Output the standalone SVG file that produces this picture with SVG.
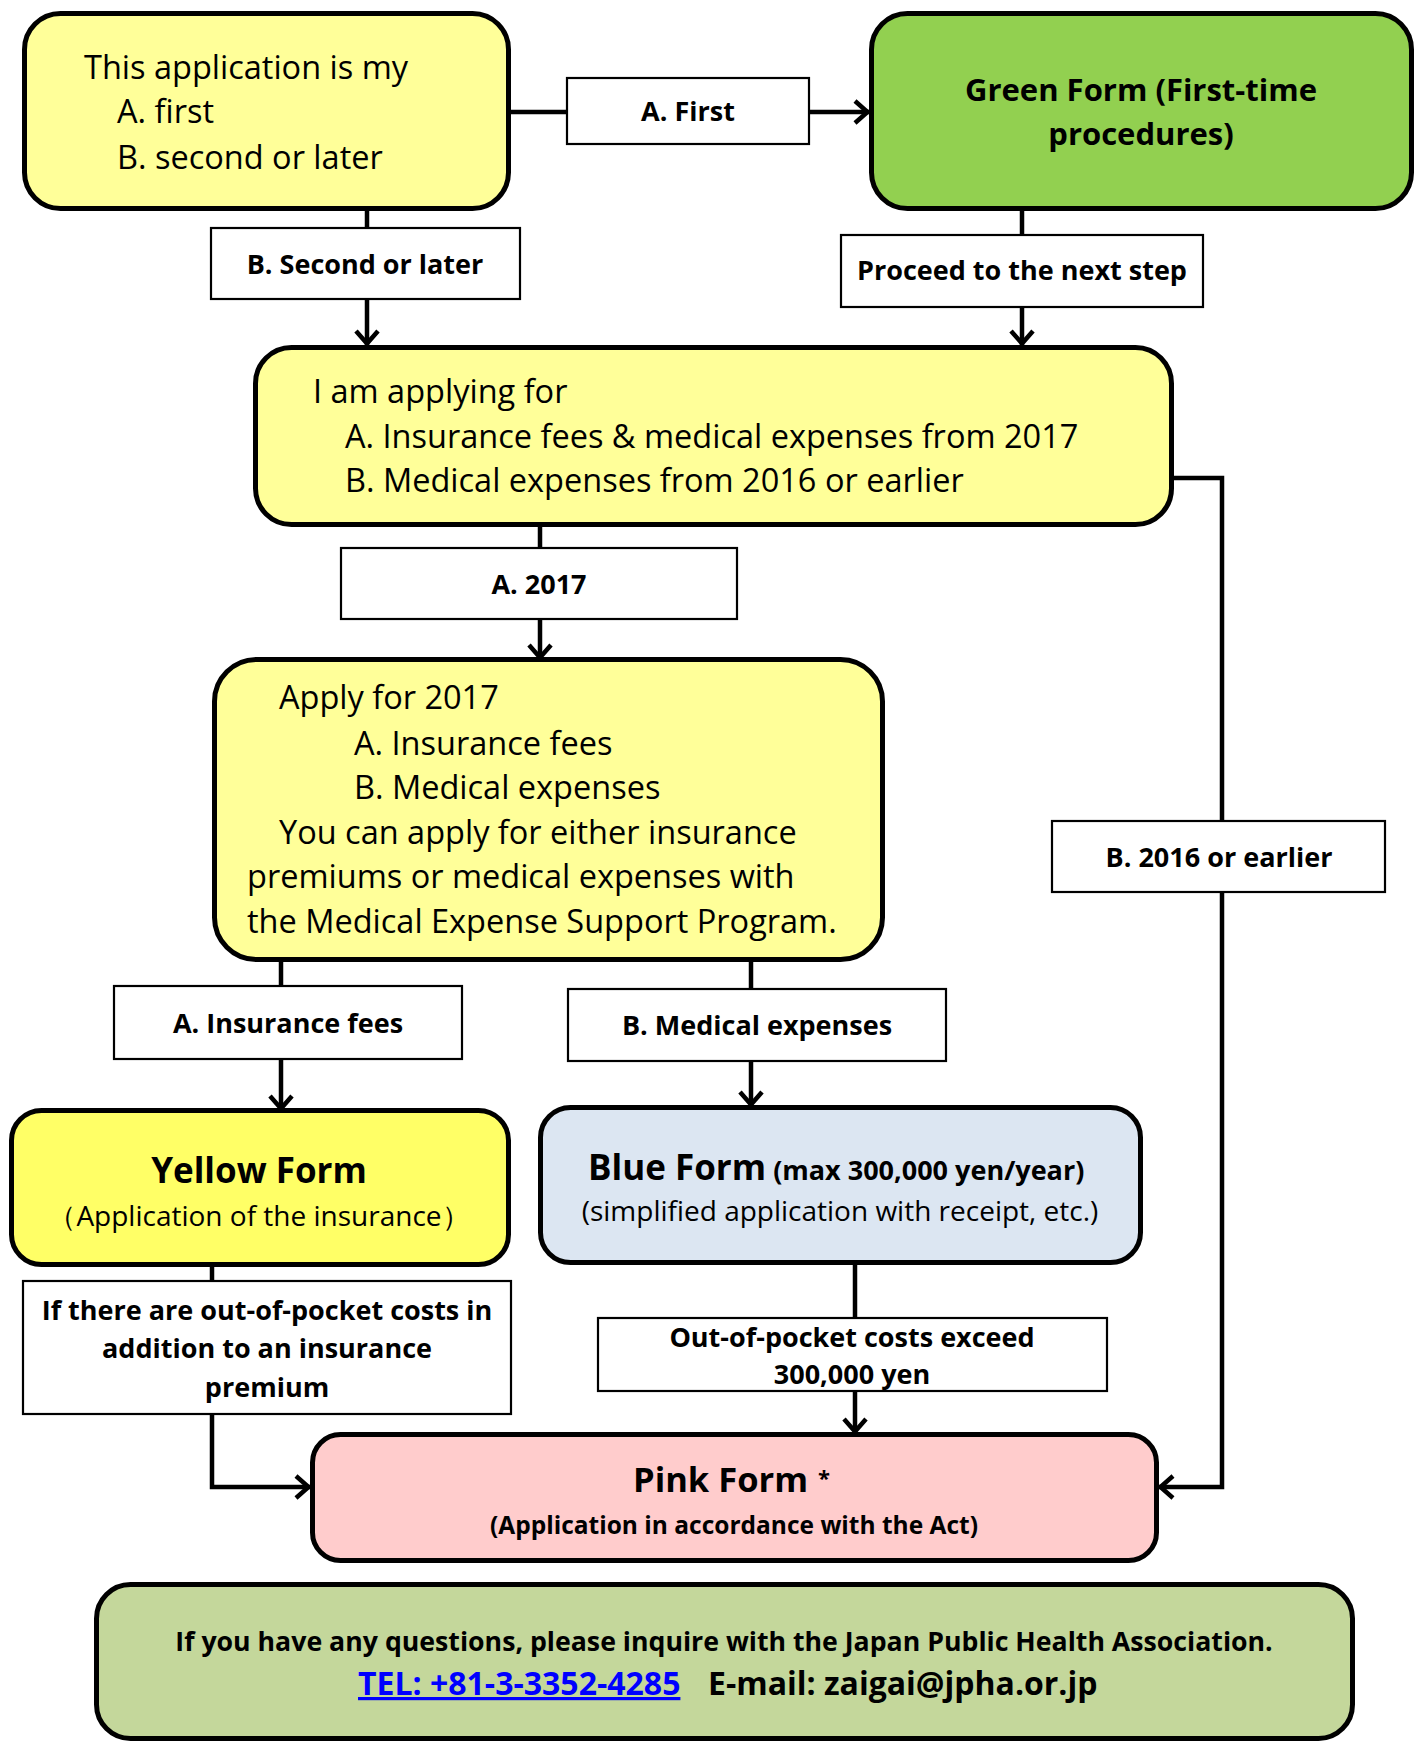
<svg xmlns="http://www.w3.org/2000/svg" width="1422" height="1742" viewBox="0 0 1422 1742">
<style>
.node{stroke:#000;stroke-width:5}
.lbl{fill:#fff;stroke:#000;stroke-width:2.2}
.t{font-family:"Open Sans","Liberation Sans",sans-serif;fill:#000}
.r{font-size:32.5px}
.b{font-weight:bold}
.lt{font-family:"Open Sans","Liberation Sans",sans-serif;font-weight:bold;font-size:27px;text-anchor:middle;fill:#000}
.c{text-anchor:middle}
.con{fill:none;stroke:#000;stroke-width:4.5;stroke-linejoin:miter}
</style>
<defs>
<marker id="arr" markerUnits="userSpaceOnUse" markerWidth="40" markerHeight="40" refX="0" refY="0" orient="auto" viewBox="-20 -20 40 40" overflow="visible">
<path d="M-14,-11 L-1.5,0 L-14,11" fill="none" stroke="#000" stroke-width="4.5"/>
</marker>
</defs>

<g id="connectors">
<path class="con" d="M511,112 H567"/>
<path class="con" d="M809,112 H869" marker-end="url(#arr)"/>
<path class="con" d="M367,211 V228"/>
<path class="con" d="M367,299 V345" marker-end="url(#arr)"/>
<path class="con" d="M1022,211 V235"/>
<path class="con" d="M1022,307 V345" marker-end="url(#arr)"/>
<path class="con" d="M540,525 V548"/>
<path class="con" d="M540,619 V659" marker-end="url(#arr)"/>
<path class="con" d="M1174,478 H1222 V821"/>
<path class="con" d="M1222,892 V1487 H1159" marker-end="url(#arr)"/>
<path class="con" d="M281,960 V986"/>
<path class="con" d="M281,1059 V1110" marker-end="url(#arr)"/>
<path class="con" d="M751,960 V989"/>
<path class="con" d="M751,1061 V1106" marker-end="url(#arr)"/>
<path class="con" d="M212,1265 V1281"/>
<path class="con" d="M212,1414 V1487 H310" marker-end="url(#arr)"/>
<path class="con" d="M855,1262 V1318"/>
<path class="con" d="M855,1391 V1433" marker-end="url(#arr)"/>
</g>

<g id="q1">
<rect class="node" x="24.5" y="13.5" width="484" height="195" rx="36" fill="#FFFF99"/>
<text class="t r" x="84" y="79">This application is my</text>
<text class="t r" x="117" y="123">A. first</text>
<text class="t r" x="117" y="169">B. second or later</text>
</g>

<g id="green">
<rect class="node" x="871.5" y="13.5" width="540" height="195" rx="36" fill="#92D050"/>
<text class="t b c" x="1141" y="101" font-size="31">Green Form (First-time</text>
<text class="t b c" x="1141" y="145" font-size="31">procedures)</text>
</g>

<g id="lbl-first">
<rect class="lbl" x="567" y="78" width="242" height="66"/>
<text class="lt" x="688" y="121">A. First</text>
</g>

<g id="lbl-second">
<rect class="lbl" x="211" y="228" width="309" height="71"/>
<text class="lt" x="365" y="274">B. Second or later</text>
</g>

<g id="lbl-proceed">
<rect class="lbl" x="841" y="235" width="362" height="72"/>
<text class="lt" x="1022" y="280">Proceed to the next step</text>
</g>

<g id="q2">
<rect class="node" x="255.5" y="347.5" width="916" height="177" rx="36" fill="#FFFF99"/>
<text class="t r" x="313" y="403">I am applying for</text>
<text class="t r" x="345" y="448">A. Insurance fees &amp; medical expenses from 2017</text>
<text class="t r" x="345" y="492">B. Medical expenses from 2016 or earlier</text>
</g>

<g id="lbl-2017">
<rect class="lbl" x="341" y="548" width="396" height="71"/>
<text class="lt" x="539" y="594">A. 2017</text>
</g>

<g id="lbl-2016">
<rect class="lbl" x="1052" y="821" width="333" height="71"/>
<text class="lt" x="1219" y="867" font-size="26.3">B. 2016 or earlier</text>
</g>

<g id="q3">
<rect class="node" x="214.5" y="659.5" width="668" height="300" rx="42" fill="#FFFF99"/>
<text class="t r" x="279" y="709">Apply for 2017</text>
<text class="t r" x="354" y="755">A. Insurance fees</text>
<text class="t r" x="354" y="799">B. Medical expenses</text>
<text class="t r" x="279" y="844">You can apply for either insurance</text>
<text class="t r" x="247" y="888">premiums or medical expenses with</text>
<text class="t r" x="247" y="933">the Medical Expense Support Program.</text>
</g>

<g id="lbl-ins">
<rect class="lbl" x="114" y="986" width="348" height="73"/>
<text class="lt" x="288" y="1033">A. Insurance fees</text>
</g>

<g id="lbl-med">
<rect class="lbl" x="568" y="989" width="378" height="72"/>
<text class="lt" x="757" y="1035">B. Medical expenses</text>
</g>

<g id="yellow">
<rect class="node" x="11.5" y="1110.5" width="497" height="154" rx="30" fill="#FFFF66"/>
<text class="t b c" x="259" y="1183" font-size="35">Yellow Form</text>
<text class="t c" x="259" y="1226" font-size="28">（Application of the insurance）</text>
</g>

<g id="blue">
<rect class="node" x="540.5" y="1107.5" width="600" height="155" rx="30" fill="#DCE6F2"/>
<text class="t b" x="588" y="1180" font-size="35">Blue Form<tspan font-size="27"> (max 300,000 yen/year)</tspan></text>
<text class="t c" x="840" y="1221" font-size="28">(simplified application with receipt, etc.)</text>
</g>

<g id="lbl-extra">
<rect class="lbl" x="23" y="1281" width="488" height="133"/>
<text class="lt" x="267" y="1320" font-size="25.5">If there are out-of-pocket costs in</text>
<text class="lt" x="267" y="1358" font-size="25.5">addition to an insurance</text>
<text class="lt" x="267" y="1397" font-size="25.5">premium</text>
</g>

<g id="lbl-exceed">
<rect class="lbl" x="598" y="1318" width="509" height="73"/>
<text class="lt" x="852" y="1347" font-size="25.5">Out-of-pocket costs exceed</text>
<text class="lt" x="852" y="1384" font-size="25.5">300,000 yen</text>
</g>

<g id="pink">
<rect class="node" x="312.5" y="1434.5" width="844" height="126" rx="28" fill="#FFCCCC"/>
<text class="t b" x="633" y="1492" font-size="34.5">Pink Form<tspan font-size="22" dx="10" dy="-6">*</tspan></text>
<text class="t b c" x="734" y="1534" font-size="24.5">(Application in accordance with the Act)</text>
</g>

<g id="contact">
<rect class="node" x="96.5" y="1584.5" width="1256" height="154" rx="34" fill="#C4D79B"/>
<text class="t b c" x="724" y="1651" font-size="26.7">If you have any questions, please inquire with the Japan Public Health Association.</text>
<text class="t b" x="358" y="1695" font-size="32" fill="#0000FF" style="fill:#0000FF" text-decoration="underline">TEL: +81-3-3352-4285</text>
<text class="t b" x="708" y="1695" font-size="32">E-mail: zaigai@jpha.or.jp</text>
</g>
</svg>
